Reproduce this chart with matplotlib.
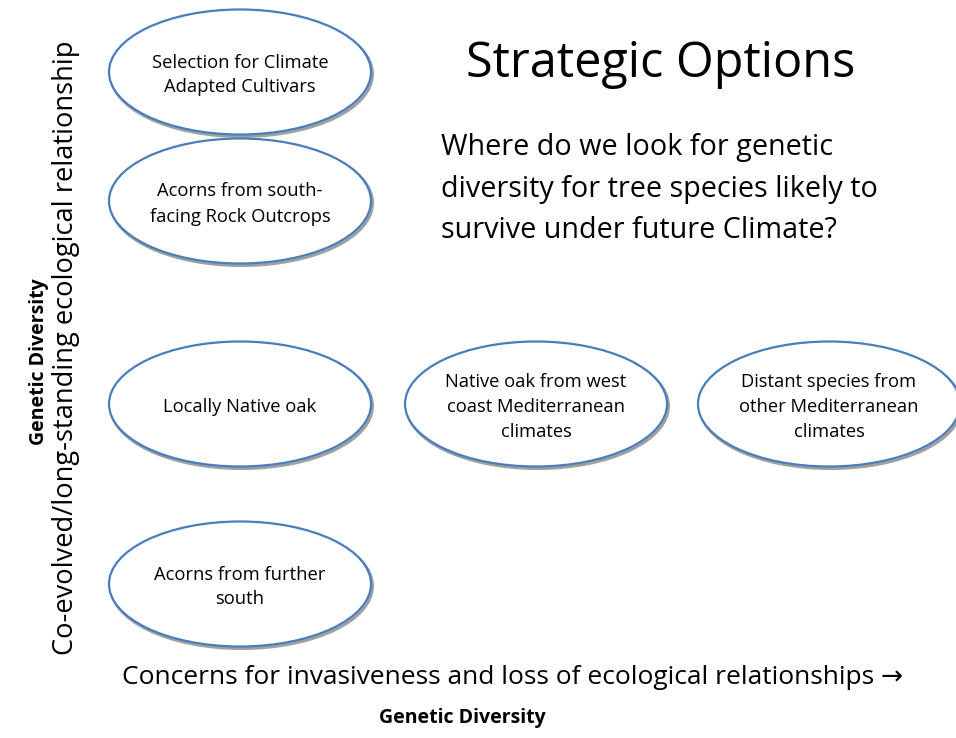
import matplotlib
matplotlib.use("Agg")
import matplotlib.pyplot as plt
from matplotlib.patches import Ellipse

plt.rcParams['font.family'] = ['Open Sans', 'DejaVu Sans']

# -----------------------------
# data: options on the diagram
# -----------------------------
option_labels = [
    "Selection for Climate\nAdapted Cultivars",
    "Acorns from south-\nfacing Rock Outcrops",
    "Locally Native oak",
    "Native oak from west\ncoast Mediterranean\nclimates",
    "Distant species from\nother Mediterranean\nclimates",
    "Acorns from further\nsouth",
]
option_x = [240, 240, 240, 536, 829, 240]
option_y = [72, 201, 404, 404, 404, 584]

title = "Strategic Options"
question = "Where do we look for genetic\ndiversity for tree species likely to\nsurvive under future Climate?"
x_label = "Concerns for invasiveness and loss of ecological relationships \u2192"
y_label = "Co-evolved/long-standing ecological relationship"
axis_title = "Genetic Diversity"

# -----------------------------
# figure
# -----------------------------
fig = plt.figure(figsize=(9.56, 7.38), dpi=100)
ax = fig.add_axes([0, 0, 1, 1])
ax.set_xlim(0, 956)
ax.set_ylim(738, 0)
ax.axis('off')

ell_w, ell_h = 262, 125
for lab, x, y in zip(option_labels, option_x, option_y):
    # soft grey shadow then blue outline
    ax.add_patch(Ellipse((x + 1.5, y + 2), ell_w, ell_h, facecolor='none',
                         edgecolor='#a0a0a0', lw=2.2, zorder=1))
    ax.add_patch(Ellipse((x, y), ell_w, ell_h, facecolor='white',
                         edgecolor='#4a7ebb', lw=1.6, zorder=2))
    ax.text(x, y + 3, lab, ha='center', va='center', fontsize=13.2,
            linespacing=1.5, color='black', zorder=3)

ax.text(661, 64, title, ha='center', va='center', fontsize=35)
ax.text(441, 189, question, ha='left', va='center', fontsize=20.7, linespacing=1.58)

ax.text(513, 677, x_label, ha='center', va='center', fontsize=19)
ax.text(462, 718, axis_title, ha='center', va='center', fontsize=14, fontweight='bold')

ax.text(66, 348, y_label, ha='center', va='center', rotation=90, fontsize=19.6)
ax.text(39, 362, axis_title, ha='center', va='center', rotation=90,
        fontsize=14, fontweight='bold')

fig.savefig("out.png", dpi=100, facecolor='white')
